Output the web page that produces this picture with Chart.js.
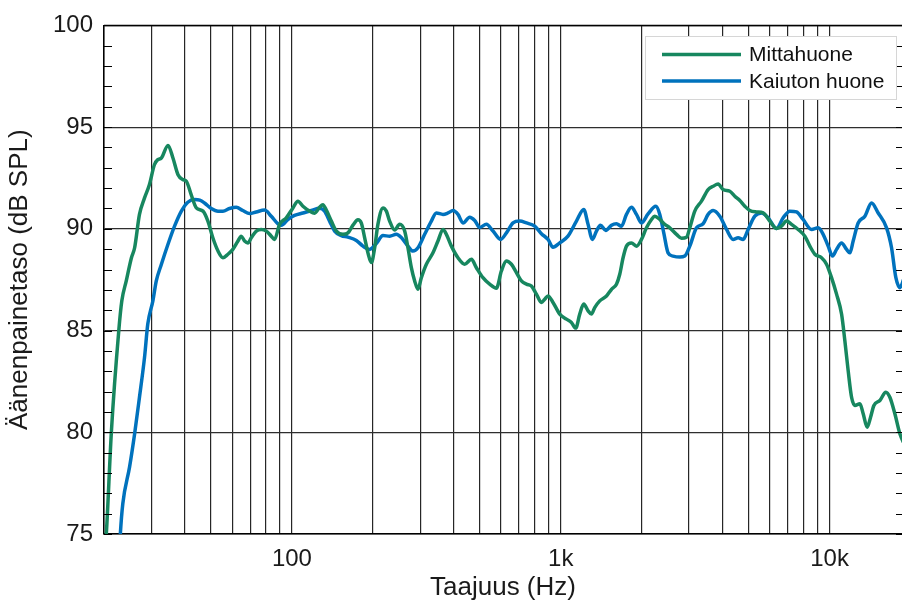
<!DOCTYPE html>
<html>
<head>
<meta charset="utf-8">
<title>Taajuusvaste</title>
<script src="https://cdn.jsdelivr.net/npm/chart.js@4"></script>
<style>
  html, body { margin: 0; padding: 0; background: #fff; overflow: hidden; }
  canvas { display: block; }
</style>
</head>
<body>
<canvas id="response" width="902" height="603"></canvas>
<script>
// values (Hz / dB SPL)
const seriesNames = ["Mittahuone", "Kaiuton huone"];
const seriesColors = ["#17875f", "#0072bd"];

const mittaFreq = [20.2, 20.4, 21.3, 22.7, 23.3, 24.2, 25.3, 26.0, 27.1, 28.3,
    29.5, 30.8, 31.7, 32.7, 34.6, 36.1, 37.7, 39.3, 40.5, 42.2,
    44.1, 46.7, 48.7, 50.8, 53.1, 55.4, 57.8, 60.3, 63.0, 64.8,
    66.7, 68.6, 70.6, 73.7, 76.9, 80.3, 83.8, 86.2, 90.0, 95.3,
    100.9, 105.3, 109.9, 116.4, 121.5, 126.8, 130.4, 134.3, 140.2, 146.4,
    154.8, 161.6, 168.7, 176.1, 181.3, 186.5, 191.8, 197.5, 203.2, 208.9,
    218.2, 224.6, 231.0, 241.2, 251.6, 262.7, 270.2, 278.2, 286.2, 294.4,
    303.1, 316.4, 334.8, 349.4, 364.8, 375.5, 392.0, 414.8, 439.3, 465.3,
    485.6, 513.7, 544.1, 576.4, 601.6, 628.0, 655.5, 684.2, 714.1, 745.6,
    778.0, 812.1, 847.6, 871.9, 896.7, 936.0, 991.5, 1050, 1096, 1137,
    1177, 1218, 1264, 1301, 1338, 1397, 1480, 1545, 1612, 1658,
    1706, 1756, 1833, 1913, 1997, 2084, 2176, 2238, 2336, 2439,
    2545, 2696, 2814, 2937, 3021, 3153, 3339, 3534, 3689, 3850,
    4018, 4256, 4442, 4637, 4840, 5051, 5349, 5662, 5995, 6350,
    6628, 6918, 7221, 7641, 8092, 8448, 8817, 9338, 9745, 10171,
    10619, 11084, 11401, 11728, 12076, 12423, 12967, 13340, 13802, 14211,
    14619, 15388, 16198, 16763, 17498, 18266, 19070];
const mittaDb = [74.3, 75.0, 80.0, 85.0, 86.46, 87.44, 88.58, 89.07, 90.71, 91.52,
    92.17, 93.15, 93.40, 93.48, 94.10, 93.48, 92.66, 92.42, 92.34, 91.68,
    91.03, 90.87, 90.38, 89.56, 88.91, 88.58, 88.75, 88.99, 89.40, 89.64,
    89.40, 89.31, 89.56, 89.89, 89.97, 89.89, 89.64, 89.48, 90.22, 90.54,
    91.03, 91.36, 91.11, 90.87, 90.77, 91.06, 91.19, 90.92, 90.38, 89.89,
    89.73, 89.80, 90.18, 90.45, 90.28, 89.56, 88.82, 88.34, 89.07, 90.22,
    91.03, 90.87, 90.38, 89.94, 90.22, 89.89, 89.07, 88.09, 87.44, 87.03,
    87.60, 88.26, 88.82, 89.40, 89.97, 89.73, 89.15, 88.58, 88.26, 88.50,
    88.09, 87.60, 87.28, 87.08, 87.93, 88.42, 88.26, 87.85, 87.44, 87.28,
    87.19, 86.79, 86.38, 86.54, 86.70, 86.38, 85.81, 85.56, 85.40, 85.12,
    85.81, 86.30, 85.97, 85.81, 86.13, 86.46, 86.70, 87.03, 87.28, 87.77,
    88.58, 89.15, 89.31, 89.15, 89.48, 90.05, 90.46, 90.62, 90.46, 90.22,
    90.05, 89.73, 89.54, 89.59, 90.05, 90.87, 91.36, 91.93, 92.09, 92.20,
    91.93, 91.85, 91.60, 91.39, 91.11, 90.90, 90.83, 90.78, 90.38, 90.02,
    90.13, 90.38, 90.22, 89.97, 89.64, 89.15, 88.75, 88.58, 88.26, 87.60,
    86.79, 85.81, 84.50, 83.03, 81.72, 81.32, 81.40, 80.91, 80.25, 80.74,
    81.32, 81.56, 81.97, 81.72, 80.91, 79.93, 79.35];

const kaiutonFreq = [22.7, 23.0, 23.5, 24.9, 26.0, 27.1, 28.3, 29.1, 30.4, 31.3,
    32.7, 34.6, 36.6, 38.8, 41.0, 43.5, 45.4, 47.3, 50.1, 53.1,
    55.4, 58.6, 62.1, 65.7, 69.6, 73.7, 79.1, 83.8, 88.7, 91.3,
    96.6, 102.3, 109.9, 118.1, 126.8, 132.3, 138.1, 144.2, 152.7, 161.6,
    173.7, 183.8, 194.6, 206.1, 218.2, 231.0, 244.6, 255.3, 270.2, 282.0,
    294.4, 311.8, 330.2, 344.6, 364.8, 380.8, 397.5, 414.8, 433.0, 458.5,
    478.6, 499.5, 528.9, 559.9, 597.6, 628.0, 664.6, 703.8, 745.6, 800.3,
    847.6, 896.7, 936.0, 991.5, 1064, 1144, 1218, 1264, 1312, 1358,
    1405, 1471, 1545, 1612, 1682, 1756, 1833, 1913, 1997, 2113,
    2258, 2336, 2417, 2508, 2617, 2773, 2894, 3021, 3199, 3385,
    3534, 3689, 3906, 4138, 4378, 4570, 4770, 4978, 5272, 5584,
    5908, 6350, 6718, 7115, 7536, 7973, 8570, 9071, 9467, 9881,
    10261, 10619, 11084, 11569, 11901, 12243, 12777, 13534, 14332, 15167,
    16295, 17007, 17649, 18266, 18900];
const kaiutonDb = [73.5, 74.99, 76.50, 78.30, 79.93, 81.72, 83.68, 85.32, 86.46, 87.44,
    88.26, 89.24, 90.13, 90.87, 91.31, 91.44, 91.41, 91.27, 91.00, 90.87,
    90.87, 91.00, 91.06, 90.90, 90.75, 90.83, 90.92, 90.62, 90.25, 90.18,
    90.46, 90.66, 90.78, 90.90, 91.01, 90.87, 90.38, 89.89, 89.67, 89.59,
    89.43, 89.15, 88.99, 89.28, 89.67, 89.64, 89.73, 89.57, 89.15, 88.91,
    89.07, 89.73, 90.38, 90.78, 90.71, 90.78, 90.90, 90.71, 90.29, 90.57,
    90.41, 90.07, 90.22, 89.89, 89.48, 89.80, 90.29, 90.38, 90.29, 90.13,
    89.76, 89.48, 89.10, 89.31, 89.64, 90.38, 90.95, 90.22, 89.48, 89.89,
    90.18, 89.92, 90.18, 90.25, 90.13, 90.71, 91.06, 90.71, 90.29, 90.73,
    91.11, 90.71, 89.80, 88.82, 88.66, 88.61, 88.66, 89.15, 90.05, 90.25,
    90.71, 90.90, 90.62, 89.97, 89.48, 89.56, 89.48, 89.97, 90.62, 90.78,
    90.54, 90.02, 90.54, 90.87, 90.83, 90.46, 89.97, 90.05, 89.73, 89.15,
    88.66, 88.99, 89.31, 88.99, 88.82, 89.40, 90.29, 90.62, 91.27, 90.78,
    90.05, 89.07, 87.60, 87.11, 87.54];

const xGridFreqs = [20, 30, 40, 50, 60, 70, 80, 90,
    100, 200, 300, 400, 500, 600, 700, 800, 900,
    1000, 2000, 3000, 4000, 5000, 6000, 7000, 8000, 9000, 10000];
const xTickLabels = { 100: "100", 1000: "1k", 10000: "10k" };

const FONT = "'Liberation Sans', Arial, Helvetica, sans-serif";

const toPoints = (fs, ds) => fs.map((f, i) => ({ x: f, y: ds[i] }));

// axes box: top line, inward minor ticks, legend box
const framePlugin = {
    id: "frame",
    afterDraw(chart) {
        const { ctx, chartArea: a, scales: { y } } = chart;
        ctx.save();
        ctx.strokeStyle = "#000";
        ctx.lineWidth = 1.5;
        ctx.beginPath();
        ctx.moveTo(a.left, a.top);
        ctx.lineTo(a.right, a.top);
        ctx.stroke();

        ctx.lineWidth = 1;
        ctx.beginPath();
        for (let v = y.min; v <= y.max; v++) {
            const py = Math.round(y.getPixelForValue(v)) + 0.5;
            ctx.moveTo(a.left, py); ctx.lineTo(a.left + 8, py);
            ctx.moveTo(a.right, py); ctx.lineTo(a.right - 6, py);
        }
        ctx.stroke();

        // legend
        const bx = 645.5, by = 36.5, bw = 251, bh = 63;
        ctx.fillStyle = "#fff";
        ctx.fillRect(bx, by, bw, bh);
        ctx.strokeStyle = "#d6d6d6";
        ctx.lineWidth = 1;
        ctx.strokeRect(bx, by, bw, bh);
        ctx.font = "21px " + FONT;
        ctx.textBaseline = "middle";
        ctx.textAlign = "left";
        chart.data.datasets.forEach((ds, i) => {
            const ly = 54.5 + i * 26.5;
            ctx.strokeStyle = ds.borderColor;
            ctx.lineWidth = 3.5;
            ctx.beginPath();
            ctx.moveTo(662, ly); ctx.lineTo(741, ly);
            ctx.stroke();
            ctx.fillStyle = "#111";
            ctx.fillText(ds.label, 749, ly + 1);
        });
        ctx.restore();
    }
};

new Chart(document.getElementById("response"), {
    type: "line",
    data: {
        datasets: [
            { label: seriesNames[0], data: toPoints(mittaFreq, mittaDb), borderColor: seriesColors[0] },
            { label: seriesNames[1], data: toPoints(kaiutonFreq, kaiutonDb), borderColor: seriesColors[1] }
        ]
    },
    options: {
        responsive: false,
        animation: false,
        devicePixelRatio: 1,
        layout: { padding: { top: 23, right: 0, left: 0, bottom: 0 } },
        elements: {
            line: { borderWidth: 3.5, cubicInterpolationMode: "monotone", fill: false },
            point: { radius: 0, hoverRadius: 0 }
        },
        datasets: { line: { clip: 0 } },
        plugins: { legend: { display: false }, tooltip: { enabled: false } },
        scales: {
            x: {
                type: "logarithmic",
                min: 20,
                max: 18600,
                afterBuildTicks: scale => { scale.ticks = xGridFreqs.map(v => ({ value: v })); },
                afterFit: scale => { scale.height = 69; },
                grid: { color: "#262626", lineWidth: 1.2, drawTicks: false },
                border: { color: "#000", width: 1.5 },
                ticks: {
                    autoSkip: false,
                    maxRotation: 0,
                    padding: 11,
                    color: "#1a1a1a",
                    font: { family: FONT, size: 24 },
                    callback: (value, i) => xTickLabels[xGridFreqs[i]] || ""
                },
                title: {
                    display: true,
                    text: "Taajuus (Hz)",
                    color: "#1a1a1a",
                    font: { family: FONT, size: 26 },
                    padding: { top: 0, bottom: 0 }
                }
            },
            y: {
                min: 75,
                max: 100,
                afterFit: scale => { scale.width = 104; },
                grid: { color: "#2e2e2e", lineWidth: 1.2, drawTicks: false },
                border: { color: "#000", width: 1.5 },
                ticks: {
                    stepSize: 5,
                    padding: 11,
                    color: "#1a1a1a",
                    font: { family: FONT, size: 24 }
                },
                title: {
                    display: true,
                    text: "Äänenpainetaso (dB SPL)",
                    color: "#1a1a1a",
                    font: { family: FONT, size: 26 },
                    padding: { top: 4, bottom: 0 }
                }
            }
        }
    },
    plugins: [framePlugin]
});
</script>
</body>
</html>
